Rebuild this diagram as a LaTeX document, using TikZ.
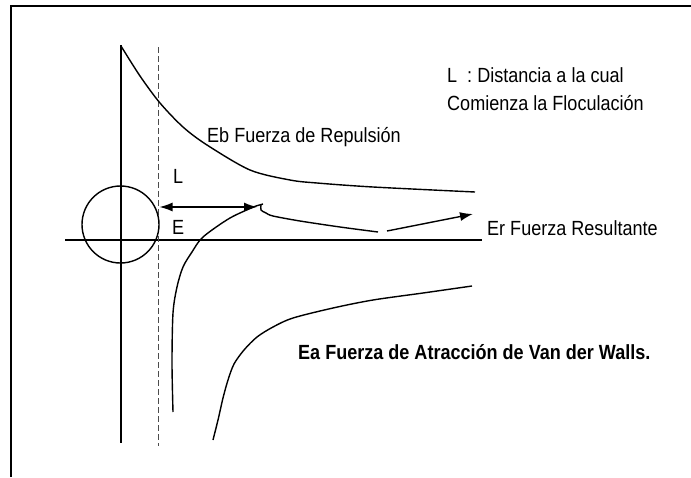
\documentclass[tikz,border=0pt]{standalone}
\usepackage{fontspec}
\setmainfont{Liberation Sans}
\usetikzlibrary{positioning,arrows.meta}
\newcommand{\narrowtext}[1]{\scalebox{0.88}[1]{#1}}

\begin{document}
\begin{tikzpicture}[x=1pt,y=-1pt,>={Latex[length=13pt,width=9pt]},
    curve/.style={line width=1.4pt},
    lbl/.style={anchor=west,inner sep=0pt,font=\fontsize{20.5}{24}\selectfont}]
      \useasboundingbox (0,0) rectangle (691,477);

      %% frame
      \draw[line width=2pt] (10.5,477) -- (10.5,6) -- (691,6);

      %% axes and particle
      \coordinate (ytop) at (121,45);
      \coordinate (ybot) at (121,443);
      \coordinate (xleft) at (65,240);
      \coordinate (xright) at (482,240);
      \coordinate (dtop) at (158.5,47);
      \coordinate (dbot) at (158.5,446);
      \draw[curve] (ytop) -- (ybot);
      \draw[curve] (xleft) -- (xright);
      \draw[line width=1.8pt,gray!60!black,dash pattern=on 6pt off 3pt] (dtop) -- (dbot);
      \node[draw,curve,circle,minimum size=77pt,inner sep=0pt] (particle) at (120.5,224.5) {};

      %% Eb
      \draw[curve] plot[smooth] coordinates {(121,46) (140,76) (160,103) (183,127) (207,145)
            (250,170) (290,180) (317,183) (373,187) (475,192)};
      %% Ea near
      \draw[curve] plot[smooth] coordinates {(173,412) (172,363) (173,313) (177,287) (183,267)
            (192,252) (203,237) (230,218) (256,206)} -- (263,204);
      %% Er
      \draw[curve] plot[smooth] coordinates {(261,205) (261,210) (266,213) (273,216) (300,221)
            (340,227) (378,232)};
      %% Ea far
      \draw[curve] plot[smooth] coordinates {(213,440) (218,420) (223,398) (228,380) (234,364)
            (244,350) (257,337) (273,327) (293,318) (333,308) (373,300) (423,293) (472,286)};

      %% arrows
      \coordinate (Lstart) at (159.5,207);
      \coordinate (Lend) at (257,207);
      \coordinate (Erstart) at (387,231);
      \coordinate (Erend) at (473,214);
      \draw[curve,<->] (Lstart) -- (Lend);
      \draw[curve,->] (Erstart) -- (Erend);

      %% labels
      \node[lbl] (Llbl) at (173,176) {\narrowtext{L}};
      \node[lbl] (Elbl) at (172,227) {\narrowtext{E}};
      \node[lbl] (Eb) at (207,137) {\narrowtext{Eb Fuerza de Repulsión}};
      \node[lbl] (Er) at (487,228) {\narrowtext{Er Fuerza Resultante}};
      \node[lbl,font=\fontsize{20.5}{24}\selectfont\bfseries] (Ea) at (298,352) {\narrowtext{Ea Fuerza de Atracción de Van der Walls.}};
      \node[lbl] (floc1) at (447,75) {\narrowtext{L\ \ : Distancia a la cual}};
      \node[lbl] (floc2) at (447,103) {\narrowtext{Comienza la Floculación}};
    \end{tikzpicture}
\end{document}
